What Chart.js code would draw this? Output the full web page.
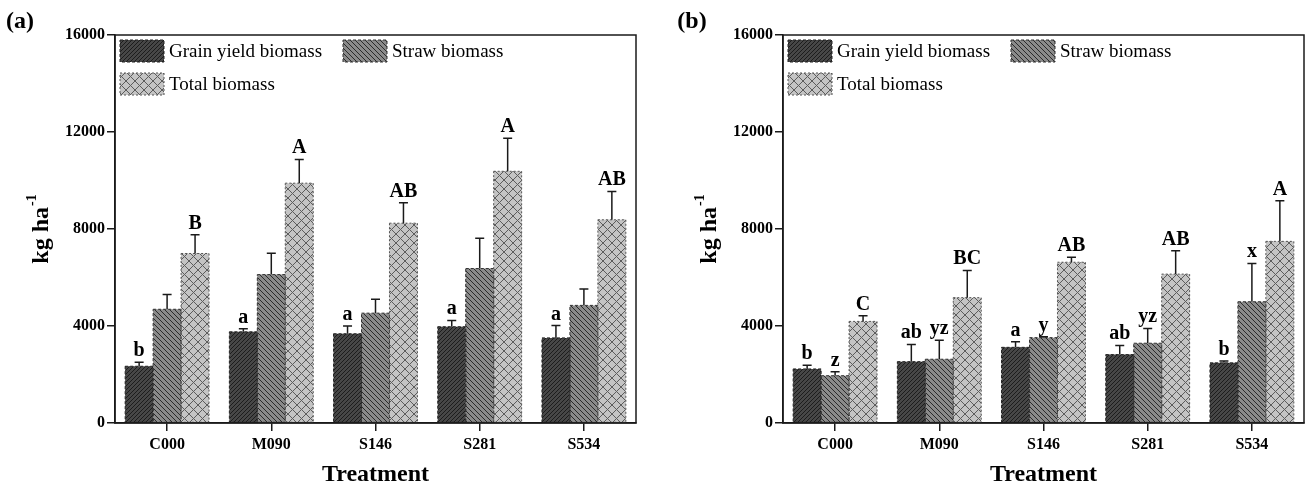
<!DOCTYPE html>
<html>
<head>
<meta charset="utf-8">
<script src="https://cdn.jsdelivr.net/npm/chart.js@4.4.1/dist/chart.umd.min.js"></script>
<style>
  body { margin: 0; background: #fff; }
  .box { position: absolute; top: 0; height: 490px; }
</style>
</head>
<body>
<div class="box" style="left:0;width:654px"><canvas id="chartA"></canvas></div>
<div class="box" style="left:668px;width:639px"><canvas id="chartB"></canvas></div>
<script>
const treatments = ["C000", "M090", "S146", "S281", "S534"];
const seriesNames = ["Grain yield biomass", "Straw biomass", "Total biomass"];
const yTicks = [0, 4000, 8000, 12000, 16000];

// panel (a)
const grainA = [2340, 3760, 3680, 3970, 3510];
const grainSdA = [170, 130, 320, 260, 510];
const grainLetA = ["b", "a", "a", "a", "a"];
const strawA = [4690, 6120, 4530, 6370, 4850];
const strawSdA = [610, 880, 570, 1250, 680];
const strawLetA = ["", "", "", "", ""];
const totalA = [6990, 9890, 8240, 10380, 8380];
const totalSdA = [770, 980, 840, 1360, 1170];
const totalLetA = ["B", "A", "AB", "A", "AB"];

// panel (b)
const grainB = [2230, 2530, 3120, 2820, 2480];
const grainSdB = [150, 710, 230, 380, 80];
const grainLetB = ["b", "ab", "a", "ab", "b"];
const strawB = [1950, 2630, 3520, 3290, 5000];
const strawSdB = [160, 780, 40, 610, 1580];
const strawLetB = ["z", "yz", "y", "yz", "x"];
const totalB = [4190, 5170, 6630, 6140, 7490];
const totalSdB = [230, 1120, 210, 960, 1680];
const totalLetB = ["C", "BC", "AB", "AB", "A"];

const serif = "'Liberation Serif', 'Times New Roman', serif";
const ink = "#1a1a1a";

function makePattern(bg, line, kind, size) {
  const c = document.createElement("canvas");
  c.width = size;
  c.height = size;
  const g = c.getContext("2d");
  g.fillStyle = bg;
  g.fillRect(0, 0, size, size);
  g.strokeStyle = line;
  g.lineWidth = 1;
  g.beginPath();
  if (kind === "/" || kind === "x") {
    g.moveTo(-1, size + 1); g.lineTo(size + 1, -1);
    g.moveTo(-1, 1); g.lineTo(1, -1);
    g.moveTo(size - 1, size + 1); g.lineTo(size + 1, size - 1);
  }
  if (kind === "\\" || kind === "x") {
    g.moveTo(-1, -1); g.lineTo(size + 1, size + 1);
    g.moveTo(size - 1, -1); g.lineTo(size + 1, 1);
    g.moveTo(-1, size - 1); g.lineTo(1, size + 1);
  }
  g.stroke();
  return g.createPattern(c, "repeat");
}

const fills = [
  makePattern("#474747", "#1c1c1c", "/", 4),
  makePattern("#8a8a8a", "#2a2a2a", "\\", 5),
  makePattern("#c4c4c4", "#5c5c5c", "x", 9)
];
const edgeDash = [[3, 2], [3, 2], [2, 2]];
const edgeColor = ["#222", "#333", "#555"];

const decorPlugin = {
  id: "decor",
  afterDatasetsDraw(chart, args, opts) {
    const ctx = chart.ctx;
    const yScale = chart.scales.y;
    const area = chart.chartArea;
    ctx.save();
    chart.data.datasets.forEach((ds, di) => {
      const meta = chart.getDatasetMeta(di);
      meta.data.forEach((bar, i) => {
        // dashed outline of the bar
        ctx.setLineDash(edgeDash[di]);
        ctx.strokeStyle = edgeColor[di];
        ctx.lineWidth = 1;
        ctx.strokeRect(bar.x - bar.width / 2, bar.y, bar.width, bar.base - bar.y);
        ctx.setLineDash([]);
        // error bar (upper only)
        const top = yScale.getPixelForValue(ds.data[i] + ds.sd[i]);
        ctx.strokeStyle = ink;
        ctx.lineWidth = 1.5;
        ctx.beginPath();
        ctx.moveTo(bar.x, bar.y);
        ctx.lineTo(bar.x, top);
        ctx.moveTo(bar.x - 4.5, top);
        ctx.lineTo(bar.x + 4.5, top);
        ctx.stroke();
        // significance letter
        if (ds.letters[i]) {
          ctx.fillStyle = "#000";
          ctx.font = "bold 20px " + serif;
          ctx.textAlign = "center";
          ctx.textBaseline = "alphabetic";
          ctx.fillText(ds.letters[i], bar.x, top - 6);
        }
      });
    });

    // frame
    ctx.strokeStyle = ink;
    ctx.lineWidth = 1.5;
    ctx.strokeRect(area.left, area.top, area.right - area.left, area.bottom - area.top);

    // legend inside plot
    const items = [[5, 5], [228, 5], [5, 38]];
    items.forEach((p, di) => {
      const x = area.left + p[0];
      const y = area.top + p[1];
      ctx.fillStyle = fills[di];
      ctx.fillRect(x, y, 44, 22);
      ctx.setLineDash(edgeDash[di]);
      ctx.strokeStyle = edgeColor[di];
      ctx.lineWidth = 1;
      ctx.strokeRect(x, y, 44, 22);
      ctx.setLineDash([]);
      ctx.fillStyle = "#000";
      ctx.font = "19px " + serif;
      ctx.textAlign = "left";
      ctx.textBaseline = "middle";
      ctx.fillText(seriesNames[di], x + 49, y + 12);
    });

    // y title with superscript
    ctx.save();
    ctx.translate(42, (area.top + area.bottom) / 2);
    ctx.rotate(-Math.PI / 2);
    ctx.font = "bold 24px " + serif;
    const w1 = ctx.measureText("kg ha").width;
    ctx.font = "bold 14px " + serif;
    const w2 = ctx.measureText("-1").width;
    const sx = -(w1 + w2 + 1) / 2;
    ctx.fillStyle = "#000";
    ctx.textAlign = "left";
    ctx.textBaseline = "middle";
    ctx.font = "bold 24px " + serif;
    ctx.fillText("kg ha", sx, 0);
    ctx.font = "bold 14px " + serif;
    ctx.fillText("-1", sx + w1 + 1, -10);
    ctx.restore();

    // panel label
    ctx.font = "bold 24px " + serif;
    ctx.textAlign = "center";
    ctx.textBaseline = "middle";
    ctx.fillStyle = "#000";
    ctx.fillText(opts.panel, opts.panelX, 22);
    ctx.restore();
  }
};

function createChart(canvasId, panel, panelX, padRight, sets) {
  const datasets = sets.map((s, di) => ({
    label: seriesNames[di],
    data: s.values,
    sd: s.sd,
    letters: s.letters,
    backgroundColor: fills[di],
    borderWidth: 0,
    barPercentage: 1,
    categoryPercentage: 0.805
  }));
  new Chart(document.getElementById(canvasId), {
    type: "bar",
    data: { labels: treatments, datasets: datasets },
    plugins: [decorPlugin],
    options: {
      responsive: true,
      maintainAspectRatio: false,
      animation: false,
      layout: { padding: { left: 0, right: padRight, top: 35, bottom: 0 } },
      plugins: {
        legend: { display: false },
        tooltip: { enabled: false },
        decor: { panel: panel, panelX: panelX }
      },
      scales: {
        x: {
          afterFit: (scale) => { scale.height = 67; },
          grid: { offset: false, drawOnChartArea: false, tickLength: 8, color: ink, lineWidth: 1.5 },
          border: { color: ink, width: 1.5 },
          ticks: { color: "#000", padding: 4, font: { family: serif, size: 16, weight: "bold" } },
          title: {
            display: true,
            text: "Treatment",
            color: "#000",
            padding: { top: 0, bottom: 1 },
            font: { family: serif, size: 24, weight: "bold" }
          }
        },
        y: {
          min: 0,
          max: 16000,
          afterFit: (scale) => { scale.width = 115; },
          afterBuildTicks: (scale) => { scale.ticks = yTicks.map((v) => ({ value: v })); },
          grid: { drawOnChartArea: false, tickLength: 8, color: ink, lineWidth: 1.5 },
          border: { color: ink, width: 1.5 },
          ticks: {
            color: "#000",
            padding: 2,
            font: { family: serif, size: 16, weight: "bold" },
            callback: (v) => String(v)
          }
        }
      }
    }
  });
}

createChart("chartA", "(a)", 20, 18, [
  { values: grainA, sd: grainSdA, letters: grainLetA },
  { values: strawA, sd: strawSdA, letters: strawLetA },
  { values: totalA, sd: totalSdA, letters: totalLetA }
]);

createChart("chartB", "(b)", 24, 3, [
  { values: grainB, sd: grainSdB, letters: grainLetB },
  { values: strawB, sd: strawSdB, letters: strawLetB },
  { values: totalB, sd: totalSdB, letters: totalLetB }
]);
</script>
</body>
</html>
